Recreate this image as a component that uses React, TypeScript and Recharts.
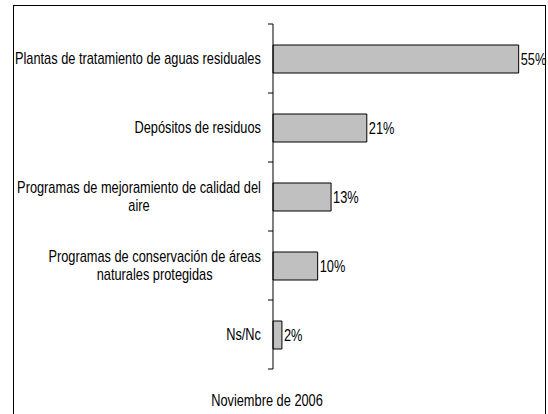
import { BarChart, Bar, XAxis, YAxis, LabelList } from "recharts";

const categories = [
  "Plantas de tratamiento de aguas residuales",
  "Depósitos de residuos",
  "Programas de mejoramiento de calidad del aire",
  "Programas de conservación de áreas naturales protegidas",
  "Ns/Nc",
];
const values = [55, 21, 13, 10, 2];
const footer = "Noviembre de 2006";

const data = categories.map((name, i) => ({ name, value: values[i] }));

// no narrow font installed: squeeze Liberation Sans horizontally
const FONT = "'Liberation Sans', Arial, sans-serif";
const FONT_SIZE = 16;
const SQUEEZE = 0.8;
const AXIS_X = 273;
const LABEL_RIGHT = 261;
const PLOT_TOP = 24;
const PLOT_BOTTOM = 369;
const BAND = (PLOT_BOTTOM - PLOT_TOP) / categories.length;

let ctx: CanvasRenderingContext2D | null = null;
const measure = (s: string) => {
  if (!ctx) {
    ctx = document.createElement("canvas").getContext("2d");
    if (ctx) ctx.font = `${FONT_SIZE}px ${FONT}`;
  }
  return (ctx ? ctx.measureText(s).width : s.length * 7.5) * SQUEEZE;
};

const wrap = (s: string, max = 252) => {
  const words = s.split(" ");
  const lines: string[] = [];
  let cur = "";
  for (const w of words) {
    const next = cur ? cur + " " + w : w;
    if (cur && measure(next) > max) {
      lines.push(cur);
      cur = w;
    } else cur = next;
  }
  if (cur) lines.push(cur);
  return lines;
};

const Narrow = ({ x, y, anchor, children }: any) => (
  <text
    transform={`translate(${x},${y}) scale(${SQUEEZE},1)`}
    textAnchor={anchor}
    dominantBaseline="central"
    fill="#000"
    fontSize={FONT_SIZE}
    fontFamily={FONT}
  >
    {children}
  </text>
);

const CategoryTick = (props: any) => {
  const { y, payload, index } = props;
  const lines = wrap(payload.value);
  const w = Math.max(...lines.map(measure));
  const cx = LABEL_RIGHT - w / 2;
  const lh = 18.5;
  const y0 = y - ((lines.length - 1) * lh) / 2;
  const top = y - BAND / 2;
  return (
    <g>
      <line x1={AXIS_X - 5} x2={AXIS_X} y1={top} y2={top} stroke="#000" />
      {index === categories.length - 1 && (
        <line x1={AXIS_X - 5} x2={AXIS_X} y1={top + BAND} y2={top + BAND} stroke="#000" />
      )}
      {lines.map((l, i) => (
        <Narrow key={i} x={cx} y={y0 + i * lh} anchor="middle">
          {l}
        </Narrow>
      ))}
    </g>
  );
};

const ValueLabel = (props: any) => {
  const { x, y, width, height, value } = props;
  return (
    <Narrow x={x + width + 2} y={y + height / 2} anchor="start">
      {`${value}%`}
    </Narrow>
  );
};

export default function App() {
  return (
    <div
      style={{
        position: "absolute",
        left: 0,
        top: 0,
        width: 548,
        height: 414,
        overflow: "hidden",
        background: "#fff",
      }}
    >
      <div
        style={{
          position: "absolute",
          left: 13,
          top: 5,
          width: 531,
          height: 440,
          border: "1px solid #000",
        }}
      />
      <div style={{ position: "absolute", left: 0, top: 0 }}>
        <BarChart
          width={548}
          height={414}
          data={data}
          layout="vertical"
          margin={{ top: PLOT_TOP, bottom: 414 - PLOT_BOTTOM, left: 13, right: 7 }}
        >
          <XAxis type="number" domain={[0, 60]} hide />
          <YAxis
            type="category"
            dataKey="name"
            width={260}
            axisLine={{ stroke: "#000" }}
            tickLine={false}
            tick={<CategoryTick />}
            interval={0}
          />
          <Bar dataKey="value" fill="#c0c0c0" stroke="#000" barSize={28} isAnimationActive={false}>
            <LabelList dataKey="value" content={<ValueLabel />} />
          </Bar>
        </BarChart>
      </div>
      <div
        style={{
          position: "absolute",
          left: 0,
          width: 534,
          top: 392,
          textAlign: "center",
          fontFamily: FONT,
          fontSize: FONT_SIZE,
          lineHeight: "18px",
          color: "#000",
          transform: `scaleX(${SQUEEZE})`,
          transformOrigin: "267px 0",
        }}
      >
        {footer}
      </div>
    </div>
  );
}
